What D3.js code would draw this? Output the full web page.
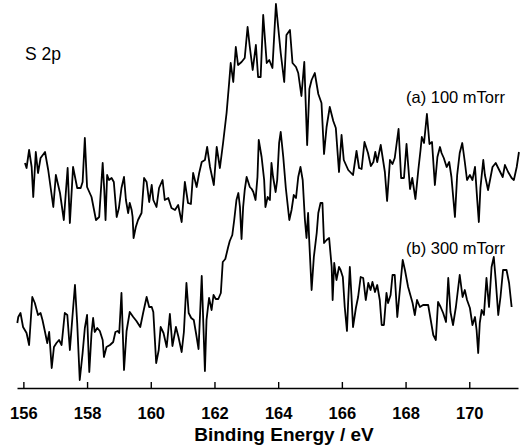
<!DOCTYPE html>
<html>
<head>
<meta charset='UTF-8'>
<title>S 2p XPS</title>
<script src='https://cdn.jsdelivr.net/npm/d3@7/dist/d3.min.js'></script>
<style>
  body { margin:0; background:#fff; }
  .trace { fill:none; stroke:#000; stroke-width:1.8px; stroke-linejoin:round; }
  text { font-family:'Liberation Sans', Arial, sans-serif; fill:#000; }
</style>
</head>
<body>
<div id='chart'></div>
<script>
/* binding energy (eV) and intensity (arb. units) */
var energyA = [156.05,156.10,156.18,156.26,156.31,156.39,156.46,156.54,156.68,156.78,156.94,157.02,157.15,157.27,157.39,157.46,157.56,157.69,157.80,157.86,
  157.93,158.00,158.14,158.28,158.38,158.49,158.54,158.58,158.63,158.69,158.77,158.84,158.93,159.00,159.08,159.16,159.22,159.29,159.34,159.40,
  159.43,159.46,159.53,159.60,159.71,159.79,159.87,159.95,160.03,160.08,160.18,160.26,160.37,160.44,160.55,160.65,160.76,160.86,160.97,161.07,
  161.17,161.26,161.33,161.44,161.52,161.60,161.70,161.77,161.86,161.98,162.07,162.17,162.27,162.38,162.46,162.51,162.59,162.67,162.74,162.85,
  162.95,163.04,163.11,163.20,163.30,163.37,163.45,163.53,163.64,163.72,163.82,163.93,164.00,164.08,164.19,164.26,164.37,164.45,164.56,164.63,
  164.73,164.82,164.91,164.98,165.05,165.15,165.26,165.36,165.44,165.52,165.62,165.73,165.81,165.91,165.99,166.06,166.20,166.35,166.46,166.54,
  166.62,166.71,166.82,166.91,166.99,167.05,167.11,167.22,167.35,167.42,167.51,167.59,167.66,167.78,167.86,167.95,168.03,168.14,168.21,168.31,
  168.40,168.47,168.51,168.58,168.67,168.75,168.83,168.92,169.00,169.08,169.13,169.20,169.29,169.37,169.44,169.55,169.62,169.70,169.78,169.86,
  169.93,170.02,170.10,170.18,170.25,170.30,170.35,170.44,170.49,170.59,170.67,170.73,170.83,170.94,171.05,171.12,171.22,171.33,171.40,171.49,171.56];
var countsA = [237,232,250,233,203,248,227,242,248,230,193,225,207,180,232,177,233,212,212,218,
  262,213,203,180,183,237,210,180,225,220,222,218,183,192,212,223,200,187,197,190,
  183,162,173,180,187,222,218,198,215,200,193,212,220,200,202,192,190,195,178,218,
  197,196,227,213,227,238,240,253,233,215,253,232,257,287,317,337,318,353,335,338,
  342,373,353,330,355,323,323,385,337,340,332,396,373,347,318,365,370,337,333,327,
  304,338,255,311,320,327,306,297,246,273,293,279,272,228,265,240,230,225,249,232,
  231,258,247,234,238,248,238,255,228,199,240,236,242,271,222,222,256,211,222,201,
  230,250,263,257,286,256,258,215,243,253,247,242,233,238,223,183,225,247,257,238,
  220,225,220,233,200,178,212,240,225,210,223,233,237,230,223,235,228,222,220,233,248];

var energyB = [155.81,155.84,155.91,155.99,156.10,156.18,156.28,156.36,156.46,156.54,156.60,156.68,156.75,156.81,156.89,156.96,157.04,157.12,157.20,157.30,
  157.38,157.46,157.54,157.62,157.69,157.77,157.86,157.93,158.00,158.07,158.14,158.19,158.24,158.32,158.40,158.49,158.53,158.61,158.72,158.82,
  158.89,158.96,159.01,159.08,159.16,159.24,159.34,159.45,159.55,159.67,159.76,159.87,159.95,160.03,160.08,160.17,160.25,160.31,160.40,160.50,
  160.60,160.68,160.79,160.87,160.97,161.04,161.12,161.19,161.27,161.35,161.43,161.50,161.60,161.70,161.75,161.83,161.91,161.97,162.04,162.12,
  162.20,162.26,162.34,162.43,162.48,162.56,162.62,162.69,162.75,162.80,162.85,162.90,162.95,163.01,163.06,163.11,163.17,163.22,163.29,163.35,
  163.39,163.48,163.56,163.60,163.67,163.74,163.79,163.84,163.92,163.97,164.03,164.08,164.16,164.24,164.35,164.42,164.49,164.56,164.63,164.70,
  164.77,164.84,164.89,164.94,164.97,165.05,165.12,165.21,165.26,165.33,165.39,165.44,165.52,165.60,165.68,165.71,165.76,165.83,165.91,165.96,
  166.03,166.09,166.16,166.20,166.25,166.30,166.35,166.44,166.51,166.59,166.67,166.75,166.83,166.90,166.96,167.04,167.11,167.19,167.25,167.32,
  167.40,167.45,167.53,167.59,167.66,167.74,167.80,167.91,167.98,168.08,168.22,168.29,168.36,168.45,168.55,168.71,168.79,168.87,168.95,169.02,
  169.10,169.18,169.27,169.34,169.41,169.49,169.58,169.70,169.79,169.86,169.93,170.02,170.10,170.18,170.23,170.28,170.33,170.39,170.46,170.54,
  170.62,170.70,170.77,170.83,170.91,170.98,171.06,171.17,171.25,171.33];
var countsB = [77,83,87,73,67,55,103,97,85,87,80,68,57,68,32,53,57,60,55,87,
  85,50,83,115,77,20,47,72,85,28,67,82,68,72,69,60,43,53,55,58,
  68,69,67,107,30,69,88,83,79,73,87,103,93,93,88,37,50,73,67,53,
  86,54,73,63,48,68,117,87,82,80,65,51,124,29,80,102,90,105,101,101,
  107,138,141,153,159,165,180,200,207,193,161,193,210,223,218,213,211,208,200,223,
  260,243,220,193,203,200,237,223,208,220,257,268,243,212,180,190,205,202,223,233,
  220,180,162,187,163,110,143,167,187,197,197,157,160,162,133,100,137,120,133,130,
  123,93,69,100,133,105,73,92,103,123,122,100,117,110,118,108,115,100,75,75,
  107,97,105,125,125,83,103,140,130,113,97,85,100,93,95,95,80,65,60,98,
  93,87,78,122,88,75,93,125,103,110,100,92,75,83,70,47,77,90,85,122,
  93,133,143,120,85,103,130,130,117,93];

var xTicks = [156, 158, 160, 162, 164, 166, 168, 170];
var panelTitle = 'S 2p';
var labelA = '(a) 100 mTorr';
var labelB = '(b) 300 mTorr';
var xTitle = 'Binding Energy / eV';

var width = 527;
var height = 448;
var axisY = 388;

/* Scale */
var xScale = d3.scaleLinear()
  .domain([155.8, 171.53])
  .range([17, 518]);

var yScale = d3.scaleLinear()
  .domain([0, 400])
  .range([400, 0]);

var svg = d3.select('#chart').append('svg')
  .attr('width', width)
  .attr('height', height);

/* Traces */
var line = d3.line()
  .x(function(d) { return xScale(d[0]); })
  .y(function(d) { return yScale(d[1]); });

var traces = [d3.zip(energyA, countsA), d3.zip(energyB, countsB)];

svg.selectAll('.trace')
  .data(traces).enter()
  .append('path')
  .attr('class', 'trace')
  .attr('d', line);

/* Axis, ticks pointing inward */
var xAxis = d3.axisBottom(xScale)
  .tickValues(xTicks)
  .tickFormat(d3.format('d'))
  .tickSizeInner(-6)
  .tickSizeOuter(0)
  .tickPadding(19);

var gx = svg.append('g')
  .attr('transform', `translate(0, ${axisY})`)
  .call(xAxis);

gx.select('.domain').attr('stroke', '#000').attr('stroke-width', 1.6);
gx.selectAll('.tick line').attr('stroke', '#000').attr('stroke-width', 1.4);
gx.selectAll('.tick text')
  .attr('font-family', "'Liberation Sans', Arial, sans-serif")
  .attr('font-size', 16.5)
  .attr('font-weight', 'bold')
  .attr('fill', '#000');

svg.append('text')
  .attr('x', 284)
  .attr('y', 441)
  .attr('text-anchor', 'middle')
  .attr('font-size', 19)
  .attr('font-weight', 'bold')
  .text(xTitle);

/* Labels */
svg.append('text')
  .attr('x', 25)
  .attr('y', 60)
  .attr('font-size', 17.5)
  .text(panelTitle);

svg.append('text')
  .attr('x', 505)
  .attr('y', 103)
  .attr('text-anchor', 'end')
  .attr('font-size', 16.5)
  .text(labelA);

svg.append('text')
  .attr('x', 505)
  .attr('y', 254)
  .attr('text-anchor', 'end')
  .attr('font-size', 16.5)
  .text(labelB);
</script>
</body>
</html>
